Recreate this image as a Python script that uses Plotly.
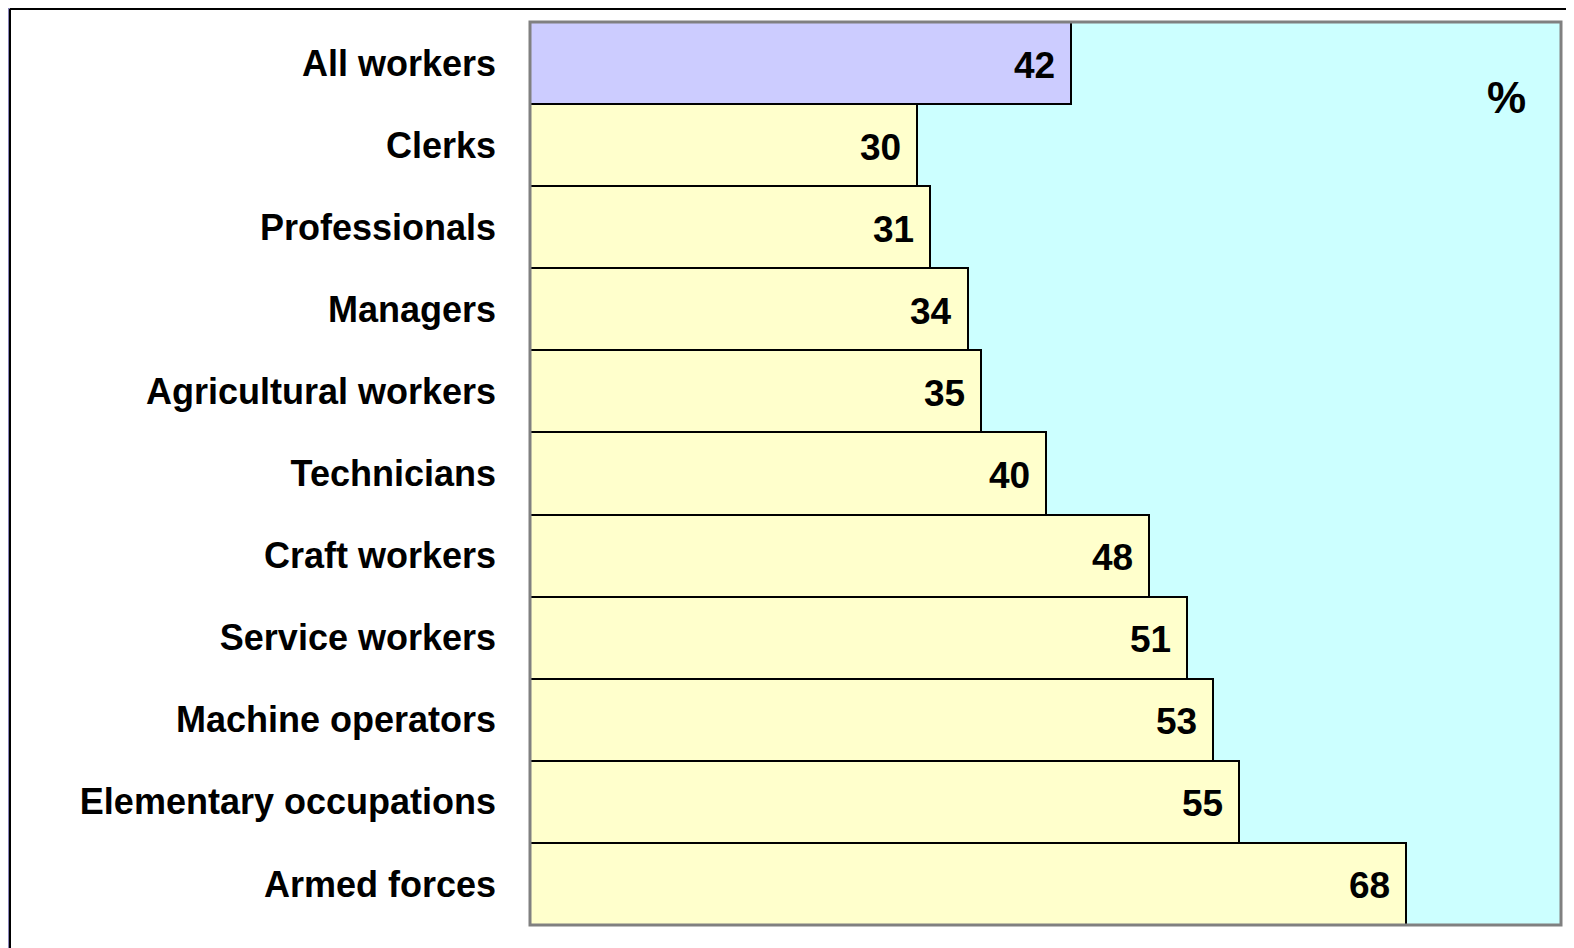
import plotly.graph_objects as go

categories = ["All workers", "Clerks", "Professionals", "Managers", "Agricultural workers",
              "Technicians", "Craft workers", "Service workers", "Machine operators",
              "Elementary occupations", "Armed forces"]
values = [42, 30, 31, 34, 35, 40, 48, 51, 53, 55, 68]
bar_colors = ["#CCCCFF"] + ["#FFFFCC"] * 10

OFF = 8  # page body margin
W, H = 1566, 940
# plot area in page pixels (full size): x 530..1561, y 22..925
L = 530 - OFF
T = 22 - OFF
R = OFF + W - 1561
B = OFF + H - 925
pw = W - L - R
ph = H - T - B

def px_x(p):  # page pixel -> paper
    return (p - OFF - L) / pw

def px_y(p):
    return 1 - (p - OFF - T) / ph

fig = go.Figure()
fig.add_trace(go.Bar(
    x=values, y=categories, orientation="h",
    marker=dict(color=bar_colors, line=dict(color="black", width=2)),
    width=1.0, hoverinfo="skip",
))

for c, v in zip(categories, values):
    fig.add_annotation(x=v, y=c, text="<b>%d</b>" % v, showarrow=False,
                       xanchor="right", yanchor="middle",
                       xshift=-14, yshift=-2,
                       font=dict(family="Liberation Sans, Arial", size=37, color="black"))

fig.add_annotation(x=px_x(1506), y=px_y(98), xref="paper", yref="paper", text="<b>%</b>",
                   showarrow=False, xanchor="center", yanchor="middle",
                   font=dict(family="Liberation Sans, Arial", size=44, color="black"))

shapes = [
    dict(type="rect", xref="paper", yref="paper", x0=0, x1=1, y0=0, y1=1,
         line=dict(color="#808080", width=3), fillcolor="rgba(0,0,0,0)", layer="above"),
    dict(type="rect", xref="paper", yref="paper", x0=px_x(8), x1=px_x(10), y0=px_y(948), y1=px_y(8),
         line=dict(width=0), fillcolor="#8A86BC", layer="below"),
    dict(type="line", xref="paper", yref="paper", x0=px_x(10), x1=px_x(1574), y0=px_y(9), y1=px_y(9),
         line=dict(color="black", width=2)),
    dict(type="line", xref="paper", yref="paper", x0=px_x(10), x1=px_x(10), y0=px_y(948), y1=px_y(9),
         line=dict(color="black", width=2)),
]

fig.update_layout(
    width=W, height=H,
    margin=dict(l=L, r=R, t=T, b=B),
    paper_bgcolor="white", plot_bgcolor="#CCFFFF",
    showlegend=False, bargap=0,
    shapes=shapes,
    xaxis=dict(range=[0, 80], showticklabels=False, showgrid=False, zeroline=False, fixedrange=True),
    yaxis=dict(autorange="reversed", showgrid=False, zeroline=False, ticks="",
               ticklabelstandoff=33,
               tickfont=dict(family="Liberation Sans, Arial", size=36, color="black", weight="bold")),
)

fig.write_html("out.html")
